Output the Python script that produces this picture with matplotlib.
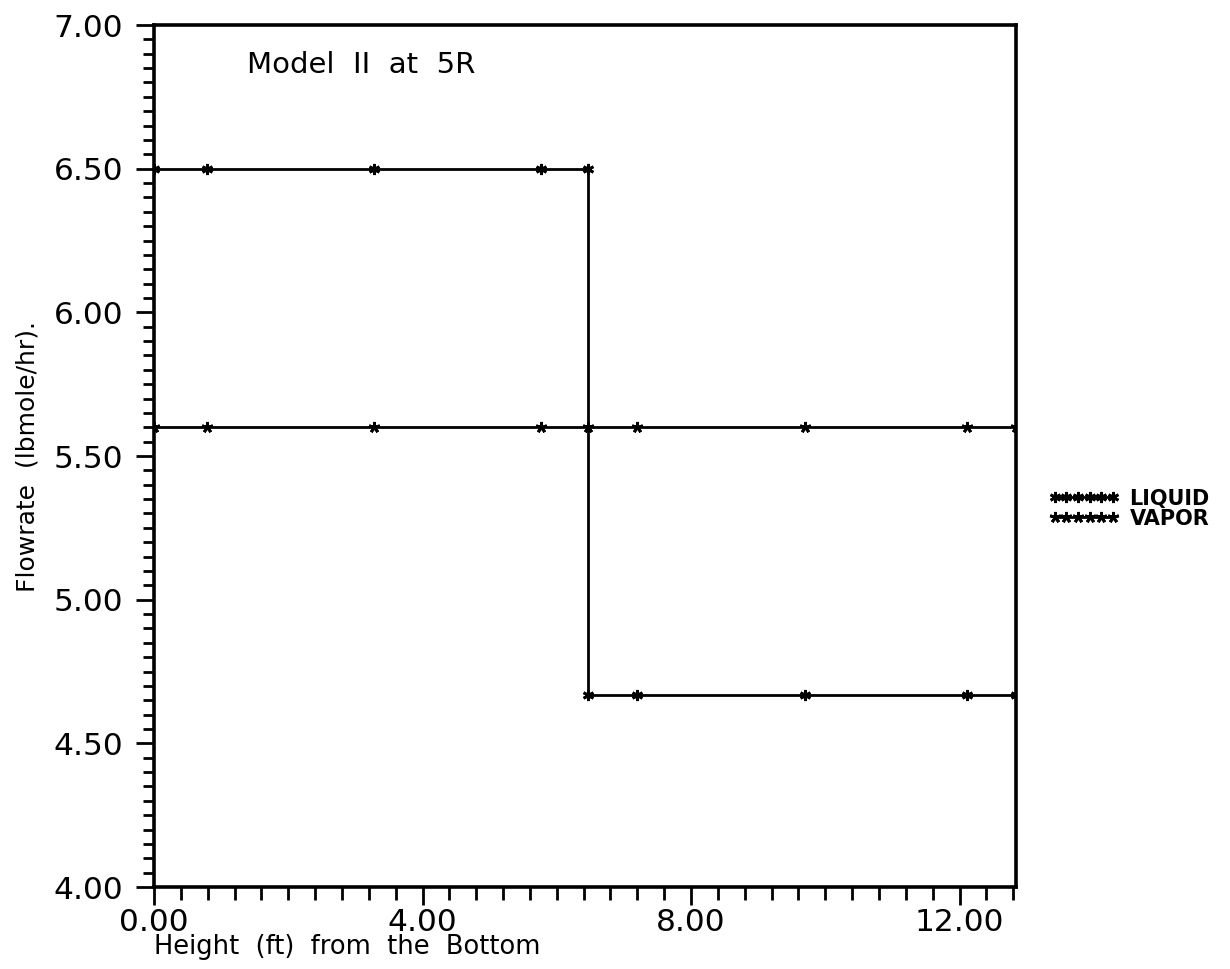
import matplotlib
matplotlib.use("Agg")
import matplotlib.pyplot as plt
from matplotlib.ticker import MultipleLocator, FormatStrFormatter

# height above the bottom (ft) and flowrates (lbmole/hr)
liquid_x = [0.0, 0.79, 3.27, 5.76, 6.47, 6.47, 7.19, 9.69, 12.11, 12.84]
liquid_y = [6.50, 6.50, 6.50, 6.50, 6.50, 4.67, 4.67, 4.67, 4.67, 4.67]
vapor_x = [0.0, 0.79, 3.27, 5.76, 6.47, 7.19, 9.69, 12.11, 12.84]
vapor_y = [5.60, 5.60, 5.60, 5.60, 5.60, 5.60, 5.60, 5.60, 5.60]

plt.rcParams['font.family'] = ['DejaVu Sans']

fig = plt.figure(figsize=(12.3, 9.69), dpi=100)
ax = fig.add_axes([0.1252, 0.0846, 0.7008, 0.8896])

# both series drawn as black lines with star markers
ax.plot(liquid_x, liquid_y, color='black', linewidth=2.0, marker=(6, 2, 0),
        markersize=8, markeredgewidth=2.0, label='LIQUID')
ax.plot(vapor_x, vapor_y, color='black', linewidth=2.0, marker=(5, 2, 0),
        markersize=8, markeredgewidth=2.0, label='VAPOR')

ax.set_xlim(0, 12.84)
ax.set_ylim(4.0, 7.0)

ax.xaxis.set_major_locator(MultipleLocator(4))
ax.xaxis.set_minor_locator(MultipleLocator(0.4))
ax.yaxis.set_major_locator(MultipleLocator(0.5))
ax.yaxis.set_minor_locator(MultipleLocator(0.05))
ax.xaxis.set_major_formatter(FormatStrFormatter('%.2f'))
ax.yaxis.set_major_formatter(FormatStrFormatter('%.2f'))

ax.tick_params(axis='both', which='both', direction='out', width=2.0, color='black')
ax.tick_params(axis='x', which='major', length=13, labelsize=22.5, pad=2)
ax.tick_params(axis='x', which='minor', length=9)
ax.tick_params(axis='y', which='major', length=13, labelsize=22.5, pad=9)
ax.tick_params(axis='y', which='minor', length=8)

for sp in ax.spines.values():
    sp.set_linewidth(2.6)

ax.set_xlabel("Height  (ft)  from  the  Bottom", fontsize=18.5, loc='left', labelpad=-2)
ax.set_ylabel("Flowrate  (lbmole/hr).", fontsize=18, labelpad=10)

ax.text(0.108, 0.954, "Model  II  at  5R", transform=ax.transAxes,
        fontsize=21, va='center', ha='left')

ax.legend(loc='center left', bbox_to_anchor=(0.837, 0.475), bbox_transform=fig.transFigure,
          frameon=False, numpoints=6, handlelength=3.4, handletextpad=0.5,
          labelspacing=0.0, prop={'size': 15, 'weight': 'bold'})

fig.savefig("out.png", dpi=100)
